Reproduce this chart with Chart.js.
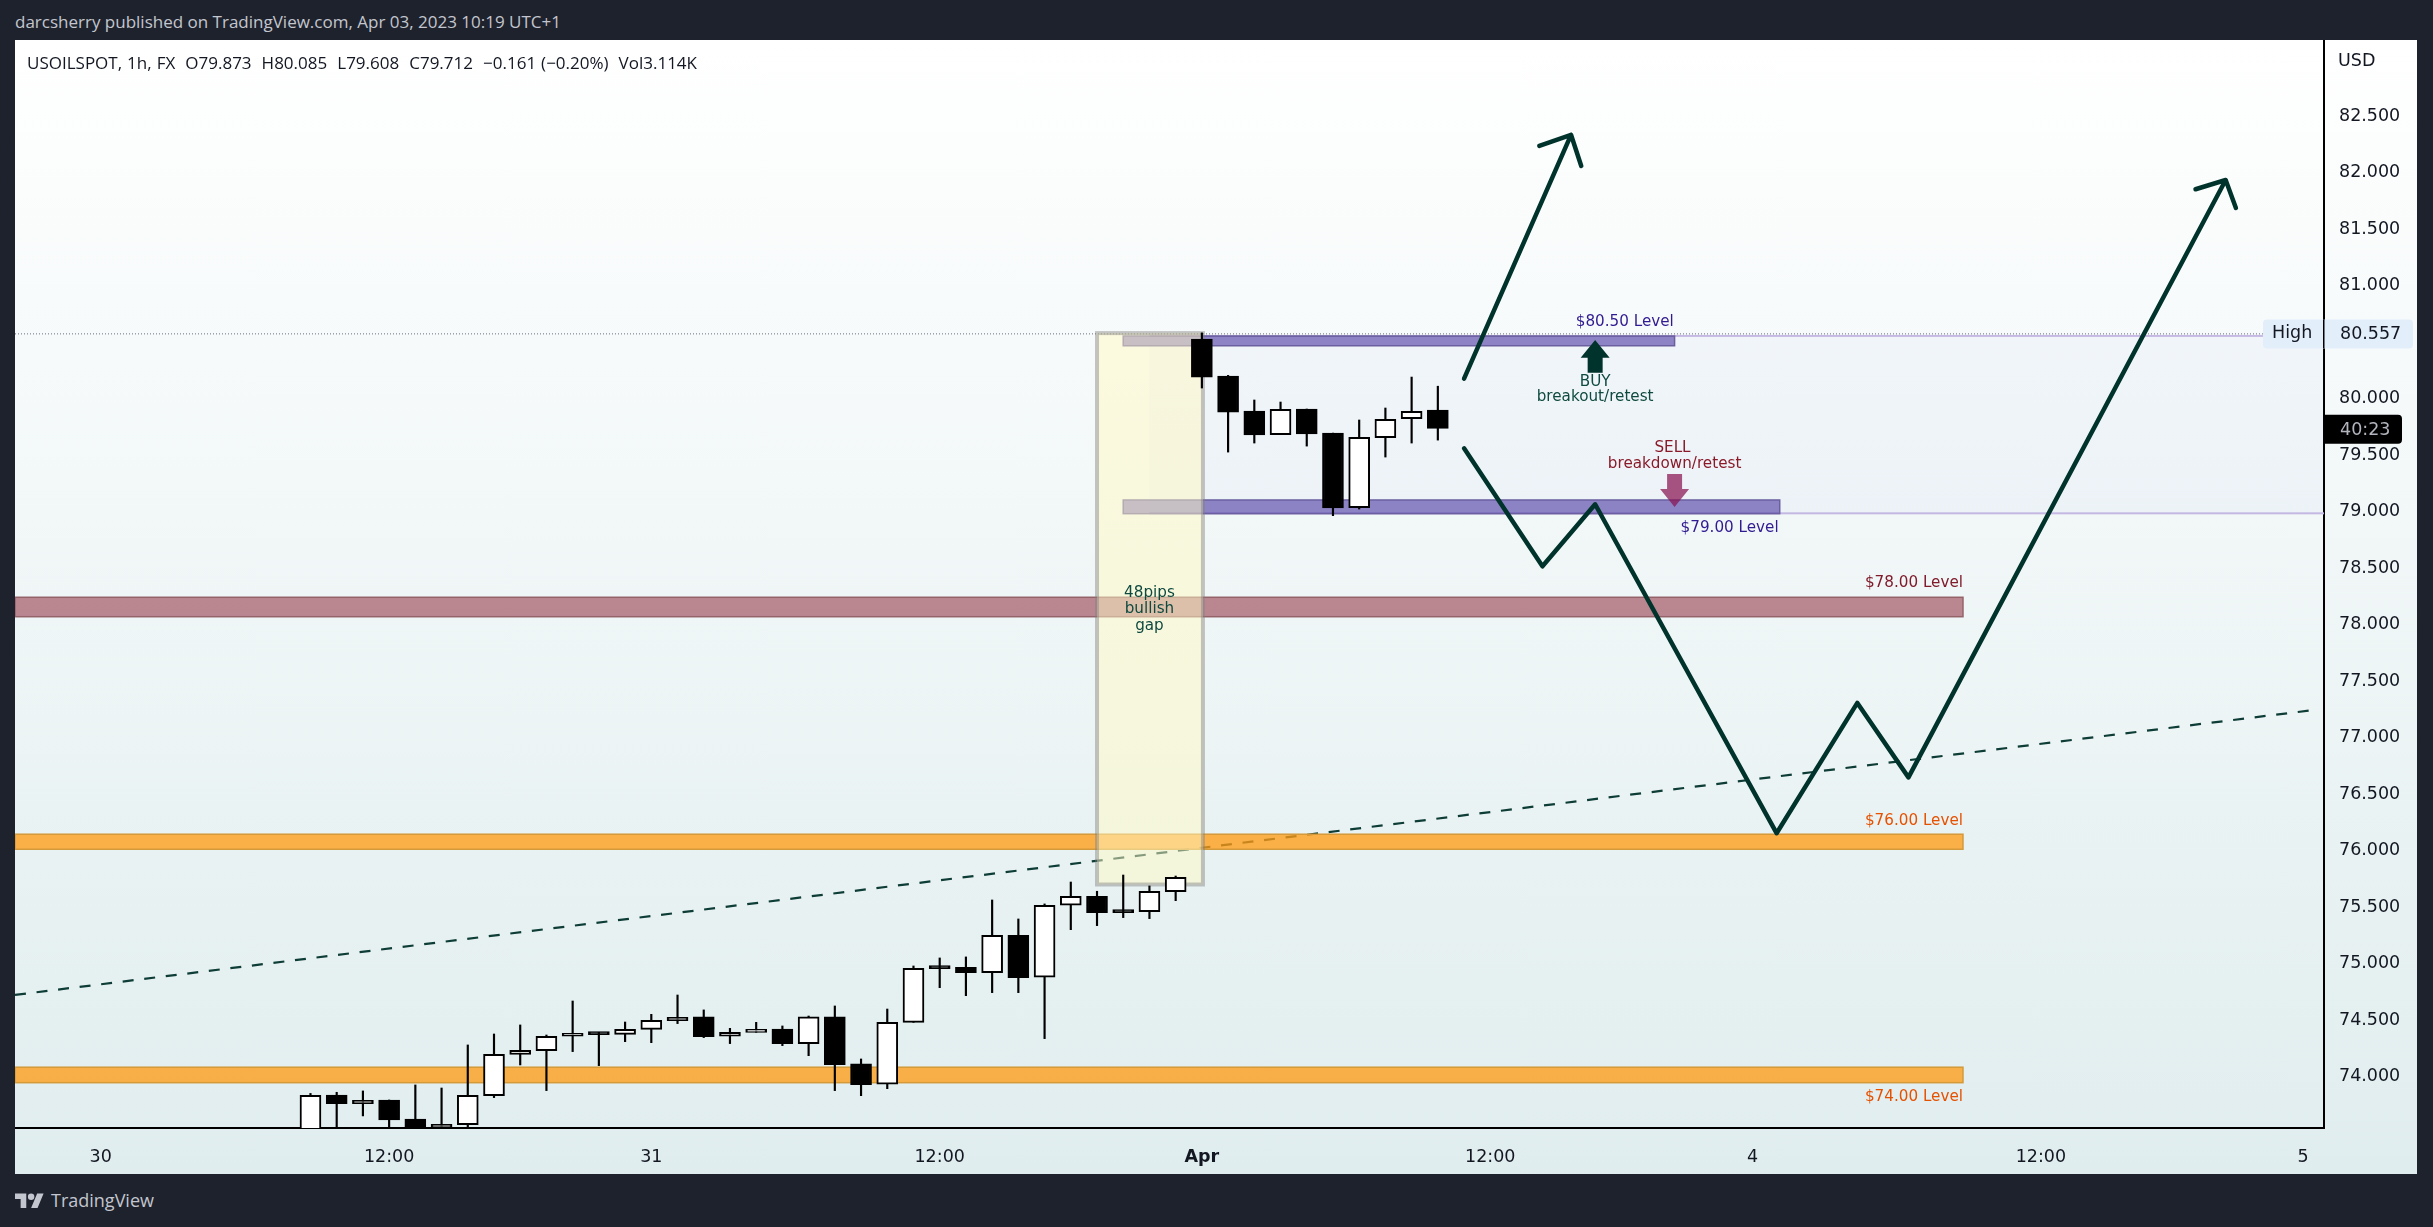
<!DOCTYPE html>
<html>
<head>
<meta charset="utf-8">
<title>USOILSPOT</title>
<script src="https://cdn.jsdelivr.net/npm/chart.js@4"></script>
<style>
    html, body { margin: 0; padding: 0; background: #1e222d; width: 2433px; height: 1227px; overflow: hidden; }
    .panel { position: absolute; left: 15px; top: 40px; width: 2402px; height: 1134px; background: linear-gradient(#ffffff, #e0edee); }
    canvas { position: absolute; left: 15px; top: 40px; }
    .txt { position: absolute; white-space: pre; font-family: "Open Sans", sans-serif; }
    #publisher { left: 15px; top: 10px; font-size: 17px; color: #c3c6ce; }
    #legend { left: 27px; top: 51px; font-size: 17px; word-spacing: 0.6px; color: #131722; }
    #brand { left: 51px; top: 1188px; font-size: 18px; color: #c3c6ce; }
    #logo { position: absolute; left: 15px; top: 1190px; }
</style>
</head>
<body>
<div class="panel"></div>
<div class="txt" id="publisher">darcsherry published on TradingView.com, Apr 03, 2023 10:19 UTC+1</div>
<canvas id="chart" width="2402" height="1134"></canvas>
<div class="txt" id="legend">USOILSPOT, 1h, FX  O79.873  H80.085  L79.608  C79.712  −0.161 (−0.20%)  Vol3.114K</div>
<svg id="logo" width="29" height="23" viewBox="0 0 36 28"><path fill="#c3c6ce" d="M14 22H7V11H0V4h14v18zM28 22h-8l7.5-18h8L28 22z"/><circle fill="#c3c6ce" cx="20" cy="8" r="4"/></svg>
<div class="txt" id="brand">TradingView</div>

<script>
// ==================== DATA ====================
// one value per hourly candle, oldest first
const opens = [73.45, 73.812, 73.736, 73.768, 73.600, 73.523, 73.550, 73.806, 74.172, 74.205, 74.332, 74.361,
    74.349, 74.393, 74.470, 74.503, 74.332, 74.367, 74.396, 74.267, 74.503, 74.087, 73.907, 74.455,
    74.945, 74.942, 74.895, 75.225, 74.854, 75.491, 75.570, 75.438, 75.435, 75.612,
    80.502, 80.175, 79.865, 79.656, 79.883, 79.670, 79.010, 79.629, 79.797, 79.873];
const highs = [73.826, 73.836, 73.848, 73.768, 73.901, 73.874, 74.255, 74.352, 74.432, 74.343, 74.644, 74.367,
    74.458, 74.526, 74.697, 74.565, 74.402, 74.455, 74.423, 74.511, 74.600, 74.131, 74.573, 74.954,
    75.025, 75.034, 75.538, 75.370, 75.503, 75.697, 75.615, 75.759, 75.662, 75.750,
    80.557, 80.181, 79.963, 79.945, 79.883, 79.670, 79.786, 79.892, 80.166, 80.085];
const lows = [73.40, 73.45, 73.627, 73.45, 73.45, 73.50, 73.50, 73.789, 74.078, 73.851, 74.196, 74.072,
    74.284, 74.275, 74.444, 74.320, 74.267, 74.367, 74.249, 74.160, 73.851, 73.806, 73.868, 74.455,
    74.762, 74.691, 74.718, 74.718, 74.311, 75.275, 75.311, 75.382, 75.373, 75.532,
    80.069, 79.502, 79.582, 79.656, 79.555, 78.939, 78.998, 79.458, 79.582, 79.608];
const closes = [73.809, 73.736, 73.765, 73.591, 73.50, 73.553, 73.809, 74.172, 74.208, 74.332, 74.358, 74.346,
    74.393, 74.473, 74.500, 74.329, 74.367, 74.393, 74.267, 74.503, 74.081, 73.904, 74.455, 74.933,
    74.930, 74.895, 75.225, 74.851, 75.491, 75.570, 75.426, 75.426, 75.615, 75.739,
    80.166, 79.856, 79.653, 79.880, 79.662, 79.007, 79.632, 79.791, 79.862, 79.712];

const xTicks = [-8, 3, 13, 24, 34, 45, 55, 66, 76];
const xTickLabels = ['30', '12:00', '31', '12:00', 'Apr', '12:00', '4', '12:00', '5'];
const priceTicks = [74, 74.5, 75, 75.5, 76, 76.5, 77, 77.5, 78, 78.5, 79, 79.5, 80, 81, 81.5, 82, 82.5];

const sessionHigh = 80.557;
const lastClose = 79.712;

// hand drawn projection lines, x in candles and y in price
const trendX = [-11.27, 76.6];
const trendPrice = [74.698, 77.225];
const upArrowX = [44.0, 48.08, 46.87, 48.08, 48.47];
const upArrowPrice = [80.152, 82.31, 82.212, 82.31, 82.034];
const swingX = [44.0, 46.99, 49.0, 55.92, 59.0, 60.95, 73.05, 71.9, 73.05, 73.44];
const swingPrice = [79.535, 78.491, 79.04, 76.129, 77.282, 76.623, 81.91, 81.828, 81.91, 81.663];

// price bands: top, bottom, first candle, last candle
const bandTops = [80.529, 79.078, 78.217, 76.12, 74.058];
const bandBottoms = [80.443, 78.957, 78.045, 75.987, 73.921];
const bandStarts = [31, 31, -11.27, -11.27, -11.27];
const bandEnds = [52.03, 56.04, 63.03, 63.03, 63.03];
const bandKinds = ['purple', 'purple', 'red', 'orange', 'orange'];

const gapBox = [30, 34.04, 80.555, 75.675];
const rangeBox = [32, 76.8, 80.53, 78.96];
const highLabelX = 74.47;

const noteTexts = ['$80.50 Level', 'BUY', 'breakout/retest', 'SELL', 'breakdown/retest', '$79.00 Level',
    '48pips', 'bullish', 'gap', '$78.00 Level', '$76.00 Level', '$74.00 Level'];
const noteX = [52, 49, 49, 51.95, 52.03, 56, 32, 32, 32, 63.03, 63.03, 63.03];
const notePrice = [80.656, 80.125, 79.99, 79.54, 79.396, 78.833, 78.258, 78.116, 77.965, 78.339, 76.237, 73.794];
const noteColors = ['#311b92', '#0f4a40', '#0f4a40', '#8a1a2a', '#8a1a2a', '#311b92',
    '#0f4a40', '#0f4a40', '#0f4a40', '#801b2c', '#e65100', '#e65100'];
const noteAligns = ['right', 'center', 'center', 'center', 'center', 'right',
    'center', 'center', 'center', 'right', 'right', 'right'];

// ==================== STYLES ====================
const FONT = '"DejaVu Sans", sans-serif';
const DARK = '#00332b';
const bandFill = { purple: 'rgba(70,50,160,0.58)', red: 'rgba(136,30,50,0.52)', orange: 'rgba(255,155,20,0.77)' };
const bandLine = { purple: '#6b5f9f', red: '#94636a', orange: '#d49a3a' };

// ==================== DRAWINGS ====================
function drawBands(chart) {
    const c = chart.ctx;
    const x = chart.scales.x;
    const y = chart.scales.y;

    // faint range behind the 80.50 / 79.00 levels
    const rx0 = x.getPixelForValue(rangeBox[0]);
    const rx1 = x.getPixelForValue(rangeBox[1]);
    const ry0 = y.getPixelForValue(rangeBox[2]);
    const ry1 = y.getPixelForValue(rangeBox[3]);
    c.fillStyle = 'rgba(60,90,220,0.03)';
    c.fillRect(rx0, ry0, rx1 - rx0, ry1 - ry0);
    c.fillStyle = '#c5b8e3';
    c.fillRect(rx0, ry0 - 1, x.getPixelForValue(highLabelX) - rx0, 2);
    c.fillRect(rx0, ry1 - 1, rx1 - rx0, 2);

    // high line
    c.save();
    c.strokeStyle = '#6a6d78';
    c.lineWidth = 1;
    c.setLineDash([1, 2]);
    c.beginPath();
    c.moveTo(chart.chartArea.left, y.getPixelForValue(sessionHigh) + 1);
    c.lineTo(x.getPixelForValue(highLabelX), y.getPixelForValue(sessionHigh) + 1);
    c.stroke();
    c.restore();

    bandTops.forEach((top, i) => {
        const x0 = x.getPixelForValue(bandStarts[i]);
        const x1 = x.getPixelForValue(bandEnds[i]);
        const y0 = y.getPixelForValue(top);
        const y1 = y.getPixelForValue(bandBottoms[i]);
        c.fillStyle = bandFill[bandKinds[i]];
        c.fillRect(x0, y0, x1 - x0, y1 - y0);
        c.strokeStyle = bandLine[bandKinds[i]];
        c.lineWidth = 1.5;
        c.strokeRect(x0, y0, x1 - x0, y1 - y0);
    });

    // gap box sits on top of the bands but under the candles
    const gx0 = x.getPixelForValue(gapBox[0]);
    const gx1 = x.getPixelForValue(gapBox[1]);
    const gy0 = y.getPixelForValue(gapBox[2]);
    const gy1 = y.getPixelForValue(gapBox[3]);
    c.fillStyle = 'rgba(255,250,195,0.5)';
    c.fillRect(gx0, gy0, gx1 - gx0, gy1 - gy0);
    c.strokeStyle = 'rgba(128,128,128,0.45)';
    c.lineWidth = 4;
    c.strokeRect(gx0, gy0, gx1 - gx0, gy1 - gy0);
}

function drawBlockArrow(chart, value, tipPrice, wingPrice, tailPrice, color) {
    const c = chart.ctx;
    const cx = chart.scales.x.getPixelForValue(value);
    const tip = chart.scales.y.getPixelForValue(tipPrice);
    const wing = chart.scales.y.getPixelForValue(wingPrice);
    const tail = chart.scales.y.getPixelForValue(tailPrice);
    c.fillStyle = color;
    c.beginPath();
    c.moveTo(cx, tip);
    c.lineTo(cx + 14.5, wing);
    c.lineTo(cx + 7.5, wing);
    c.lineTo(cx + 7.5, tail);
    c.lineTo(cx - 7.5, tail);
    c.lineTo(cx - 7.5, wing);
    c.lineTo(cx - 14.5, wing);
    c.closePath();
    c.fill();
}

function drawNotes(chart) {
    const c = chart.ctx;
    c.save();
    c.font = '15.2px ' + FONT;
    c.textBaseline = 'middle';
    noteTexts.forEach((text, i) => {
        c.fillStyle = noteColors[i];
        c.textAlign = noteAligns[i];
        c.fillText(text, chart.scales.x.getPixelForValue(noteX[i]), chart.scales.y.getPixelForValue(notePrice[i]));
    });
    c.restore();
}

function drawPriceTags(chart) {
    const c = chart.ctx;
    const axisX = chart.chartArea.right;
    const highY = chart.scales.y.getPixelForValue(sessionHigh) + 1;
    const lastY = chart.scales.y.getPixelForValue(lastClose) + 1;

    c.save();
    c.fillStyle = '#e3eefb';
    c.beginPath();
    c.roundRect(axisX - 61, highY - 14.5, 150, 29, 4);
    c.fill();
    c.fillStyle = '#000';
    c.fillRect(axisX - 1, highY - 14.5, 1.5, 29);

    c.font = '17.5px ' + FONT;
    c.textBaseline = 'middle';
    c.textAlign = 'left';
    c.fillStyle = '#131722';
    c.fillText('High', axisX - 52, highY);
    c.fillText(sessionHigh.toFixed(3), axisX + 16, highY + 1);

    c.fillStyle = '#000';
    c.beginPath();
    c.roundRect(axisX, lastY - 14.5, 78, 29, [0, 4, 4, 0]);
    c.fill();
    c.fillStyle = '#b2b5be';
    c.fillText('40:23', axisX + 16, lastY + 1);

    c.fillStyle = '#131722';
    c.fillText('USD', axisX + 14, 21);
    c.restore();
}

const drawingsPlugin = {
    id: 'drawings',
    afterDatasetDraw(chart, args) {
        // trend line stays under everything else
        if (chart.data.datasets[args.index].label === 'Trend') drawBands(chart);
    },
    afterDatasetsDraw(chart) {
        drawBlockArrow(chart, 49, 80.494, 80.337, 80.204, DARK);
        drawBlockArrow(chart, 52.03, 79.016, 79.175, 79.308, 'rgba(136,14,79,0.7)');
        drawNotes(chart);
        drawPriceTags(chart);
    }
};

// ==================== CHART ====================
const candleX = opens.map((_, i) => i);

function path(xs, ys) {
    return xs.map((v, i) => ({ x: v, y: ys[i] }));
}

function candleColor(i) {
    return closes[i] >= opens[i] ? '#ffffff' : '#000000';
}

new Chart(document.getElementById('chart').getContext('2d'), {
    type: 'bar',
    data: {
        datasets: [
            { type: 'line', label: 'Up arrow', order: 1, data: path(upArrowX, upArrowPrice), borderColor: DARK, borderWidth: 4.5, pointRadius: 0, borderCapStyle: 'round', borderJoinStyle: 'round', clip: false },
            { type: 'line', label: 'Swing path', order: 1, data: path(swingX, swingPrice), borderColor: DARK, borderWidth: 4.5, pointRadius: 0, borderCapStyle: 'round', borderJoinStyle: 'round', clip: false },
            { label: 'Body', order: 2, data: candleX.map(i => ({ x: i, y: [opens[i], closes[i]] })), backgroundColor: candleX.map(candleColor), borderColor: '#000000', borderWidth: 2, borderSkipped: false, barThickness: 21, minBarLength: 3 },
            { label: 'Wick', order: 3, data: candleX.map(i => ({ x: i, y: [lows[i], highs[i]] })), backgroundColor: '#000000', barThickness: 1.5 },
            { type: 'line', label: 'Trend', order: 4, data: path(trendX, trendPrice), borderColor: '#0d3d36', borderWidth: 2.2, borderDash: [11, 10.7], pointRadius: 0 }
        ]
    },
    options: {
        responsive: false,
        animation: false,
        devicePixelRatio: 1,
        grouped: false,
        layout: { padding: 0 },
        plugins: { legend: { display: false }, tooltip: { enabled: false } },
        scales: {
            x: {
                type: 'linear',
                offset: false,
                min: -11.27,
                max: 76.8,
                grid: { display: false },
                border: { color: '#000000', width: 2 },
                afterBuildTicks: (scale) => { scale.ticks = xTicks.map(v => ({ value: v })); },
                afterFit: (scale) => { scale.height = 46; scale.paddingLeft = 0; scale.paddingRight = 0; },
                ticks: {
                    autoSkip: false,
                    maxRotation: 0,
                    padding: 11,
                    color: '#131722',
                    font: (ctx) => ({ family: FONT, size: 17.5, weight: ctx.tick && ctx.tick.value === 34 ? '700' : '400' }),
                    callback: (v) => xTickLabels[xTicks.indexOf(v)]
                }
            },
            y: {
                position: 'right',
                min: 73.52,
                max: 83.149,
                grid: { display: false, drawTicks: false },
                border: { color: '#000000', width: 2 },
                afterBuildTicks: (scale) => { scale.ticks = priceTicks.map(v => ({ value: v })); },
                // tick labels must not push the chart area away from the panel top
                afterFit: (scale) => { scale.width = 93; scale.paddingTop = 0; scale.paddingBottom = 0; },
                ticks: {
                    padding: 15,
                    color: '#131722',
                    // empty first line drops the label 3px to sit like the original
                    font: { family: FONT, size: 17.5, lineHeight: 6 / 17.5 },
                    callback: (v) => ['', v.toFixed(3)]
                }
            }
        }
    },
    plugins: [drawingsPlugin]
});
</script>
</body>
</html>
